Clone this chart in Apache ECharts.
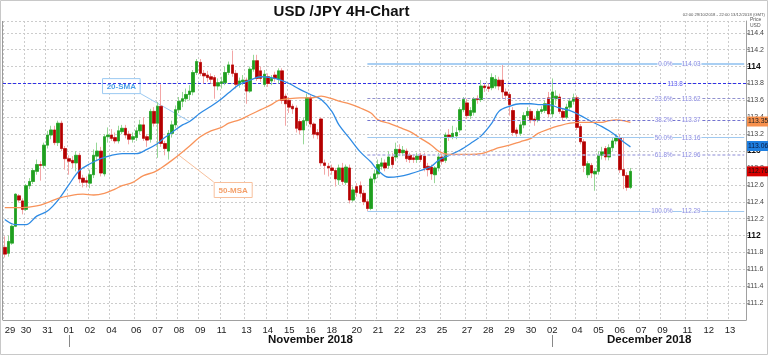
<!DOCTYPE html>
<html><head><meta charset="utf-8">
<script src="https://cdn.jsdelivr.net/npm/echarts@6/dist/echarts.min.js"></script>
<style>html,body{margin:0;padding:0;background:#fff}#c{width:768px;height:355px}</style>
</head><body><div id="c"></div>
<script>
const FONT = '"Liberation Sans", Arial, sans-serif';
// day labels on the time axis and number of 4H slots until the next label
const dayLabels = ['29','30','31','01','02','04','06','07','08','09','11','13','14','15','16','18','20','21','22','23','25','27','28','29','30','02','04','05','06','07','09','11','12','13'];
const slotsPerDay = [6,6,6,6,6,7,6,6,6,6,7,6,6,6,6,7,6,6,6,6,7,6,6,6,6,7,6,6,6,6,7,6,6,5];
const monthNames = ['November 2018','December 2018'];
const monthStartDay = [3, 25];
const priceTicksMin = 111.0, priceTicksMax = 114.54, priceStep = 0.2;

// candles: [open, close, low, high]
const ohlc = [
[111.86,111.78,111.74,111.99],[111.79,111.93,111.75,112.00],[111.91,112.11,111.89,112.13],[112.11,112.49,112.10,112.50],
[112.47,112.42,112.39,112.49],[112.41,112.31,112.25,112.44],[112.31,112.59,112.29,112.61],[112.59,112.64,112.55,112.68],
[112.64,112.77,112.61,112.80],[112.76,112.84,112.72,112.90],[112.84,112.83,112.65,112.88],[112.83,113.07,112.80,113.10],
[113.07,113.19,113.03,113.24],[113.19,113.25,113.14,113.30],[113.25,113.10,113.07,113.30],[113.10,113.33,113.06,113.36],
[113.33,113.03,113.00,113.36],[113.03,112.91,112.78,113.06],[112.91,112.88,112.72,112.95],[112.89,112.86,112.80,112.94],
[112.86,112.95,112.76,113.00],[112.95,112.67,112.62,112.98],[112.68,112.63,112.57,112.72],[112.65,112.63,112.57,112.70],
[112.62,112.72,112.56,112.78],[112.72,112.95,112.68,113.02],[112.94,113.00,112.88,113.10],[113.00,112.74,112.70,113.05],
[112.73,113.17,112.70,113.20],[113.17,113.19,113.10,113.28],[113.19,113.15,113.12,113.26],[113.16,113.12,113.09,113.22],
[113.12,113.24,113.09,113.30],[113.23,113.27,113.20,113.31],[113.27,113.19,113.15,113.31],[113.20,113.14,113.08,113.24],
[113.14,113.17,113.10,113.22],[113.16,113.24,113.12,113.28],[113.24,113.31,113.20,113.37],[113.31,113.15,113.12,113.40],
[113.17,113.13,113.05,113.20],[113.14,113.47,113.10,113.50],[113.47,113.33,113.29,113.52],[113.33,113.53,112.92,113.58],
[113.53,113.09,113.05,113.79],[113.09,113.03,112.95,113.12],[113.00,113.21,112.90,113.25],[113.21,113.31,113.16,113.36],
[113.31,113.49,113.27,113.54],[113.49,113.59,113.45,113.64],[113.59,113.62,113.52,113.70],[113.62,113.67,113.58,113.74],
[113.67,113.71,113.60,113.78],[113.70,113.93,113.66,113.96],[113.93,114.06,113.90,114.09],[114.05,113.92,113.89,114.09],
[113.92,113.89,113.80,113.96],[113.90,113.87,113.82,113.95],[113.88,113.85,113.80,113.92],[113.87,113.77,113.62,113.90],
[113.77,113.81,113.72,113.86],[113.80,113.82,113.74,113.88],[113.81,113.93,113.78,114.00],[113.93,114.02,113.90,114.06],
[114.02,113.92,113.88,114.19],[113.92,113.79,113.74,113.96],[113.79,113.83,113.75,113.87],[113.82,113.84,113.78,113.90],
[113.84,113.71,113.56,113.87],[113.71,113.97,113.69,114.00],[113.97,114.07,113.94,114.14],[114.07,113.86,113.83,114.14],
[113.95,113.86,113.82,114.00],[113.79,113.91,113.76,113.96],[113.88,113.80,113.76,113.92],[113.83,113.86,113.78,113.90],
[113.90,113.86,113.82,113.94],[113.85,113.95,113.80,113.98],[113.95,113.60,113.56,113.98],[113.65,113.56,113.30,113.68],
[113.60,113.52,113.45,113.64],[113.53,113.50,113.44,113.56],[113.51,113.27,113.22,113.54],[113.35,113.25,113.20,113.38],
[113.25,113.36,113.08,113.40],[113.36,113.63,113.30,113.68],[113.63,113.32,113.28,113.66],[113.32,113.20,113.15,113.34],
[113.22,113.19,113.14,113.26],[113.38,112.86,112.82,113.40],[112.86,112.83,112.72,112.90],[112.82,112.80,112.70,112.86],
[112.80,112.77,112.72,112.84],[112.77,112.67,112.58,112.80],[112.66,112.80,112.60,112.84],[112.80,112.64,112.60,112.86],
[112.63,112.81,112.60,112.84],[112.80,112.42,112.38,112.84],[112.42,112.54,112.40,112.58],[112.58,112.51,112.46,112.62],
[112.59,112.50,112.45,112.64],[112.50,112.40,112.36,112.54],[112.40,112.32,112.29,112.43],[112.32,112.67,112.30,112.70],
[112.67,112.73,112.62,112.78],[112.73,112.84,112.68,112.90],[112.82,112.86,112.78,112.92],[112.86,112.80,112.76,112.90],
[112.83,112.93,112.79,113.00],[112.93,112.84,112.80,112.98],[112.93,113.02,112.88,113.10],[113.02,112.98,112.94,113.08],
[112.98,113.01,112.94,113.06],[113.00,112.91,112.87,113.03],[112.95,112.90,112.86,112.98],[112.92,112.90,112.86,112.96],
[112.90,112.94,112.86,112.98],[112.95,112.90,112.87,112.98],[112.94,112.80,112.76,112.98],[112.82,112.78,112.70,112.86],
[112.81,112.73,112.66,112.84],[112.72,112.80,112.62,112.82],[112.80,112.93,112.76,112.98],[112.93,112.88,112.84,112.97],
[112.89,113.19,112.86,113.22],[113.19,113.17,113.12,113.26],[113.17,113.21,113.14,113.30],[113.18,113.22,113.14,113.28],
[113.25,113.49,113.22,113.52],[113.49,113.61,113.46,113.64],[113.57,113.42,113.38,113.62],[113.42,113.48,113.38,113.52],
[113.46,113.62,113.42,113.64],[113.62,113.61,113.56,113.66],[113.61,113.77,113.58,113.84],[113.77,113.75,113.70,113.80],
[113.76,113.74,113.70,113.80],[113.75,113.87,113.72,113.92],[113.77,113.85,113.74,113.90],[113.84,113.77,113.72,113.88],
[113.84,113.70,113.62,114.03],[113.70,113.66,113.60,113.74],[113.67,113.55,113.42,113.70],[113.48,113.22,113.18,113.52],
[113.25,113.21,113.17,113.28],[113.21,113.31,113.18,113.35],[113.31,113.42,113.27,113.46],[113.42,113.47,113.39,113.52],
[113.47,113.37,113.33,113.50],[113.38,113.36,113.30,113.42],[113.37,113.47,113.34,113.50],[113.47,113.49,113.44,113.53],
[113.48,113.56,113.45,113.60],[113.63,113.44,113.40,113.70],[113.44,113.70,113.40,113.86],[113.62,113.65,113.55,113.72],
[113.64,113.47,113.44,113.68],[113.47,113.40,113.36,113.50],[113.40,113.52,113.38,113.56],[113.52,113.59,113.49,113.62],
[113.59,113.63,113.55,113.68],[113.63,113.28,113.25,113.66],[113.29,113.11,113.08,113.32],[113.11,112.83,112.75,113.14],
[112.72,112.85,112.68,112.88],[112.83,112.74,112.68,112.86],[112.73,112.76,112.53,112.80],[112.76,112.95,112.72,113.00],
[112.95,112.99,112.90,113.05],[113.03,112.93,112.89,113.06],[112.93,113.04,112.89,113.08],[113.04,113.12,113.00,113.16],
[113.12,113.16,113.08,113.20],[113.16,112.78,112.74,113.20],[112.78,112.71,112.55,113.16],[112.71,112.57,112.53,112.75],
[112.57,112.76,112.55,112.80]
];

// moving averages: [slot index, value]
const ma20 = [[0,112.19],[3,112.13],[6,112.13],[9,112.23],[12,112.29],[15,112.42],[18,112.60],[21,112.77],[24,112.85],[27,112.91],
[30,112.95],[33,112.97],[37,112.97],[40,113.02],[43,113.09],[45,113.16],[47,113.22],[50,113.31],[52,113.35],[55,113.45],[58,113.53],
[61,113.62],[63,113.69],[66,113.79],[69,113.84],[72,113.88],[75,113.87],[77,113.85],[80,113.80],[83,113.73],[86,113.67],[89,113.61],
[92,113.47],[94,113.31],[97,113.15],[100,112.99],[103,112.87],[105,112.77],[108,112.69],[111,112.70],[114,112.73],[117,112.77],
[120,112.82],[122,112.89],[125,112.95],[128,113.01],[131,113.09],[134,113.18],[137,113.33],[139,113.47],[142,113.53],[145,113.56],
[148,113.56],[150,113.55],[153,113.55],[156,113.51],[159,113.48],[162,113.42],[165,113.35],[168,113.29],[170,113.24],[172,113.18],
[174,113.11],[176,113.05]];
const ma50 = [[0,112.33],[5,112.33],[9,112.35],[12,112.39],[15,112.44],[18,112.47],[22,112.49],[25,112.48],[28,112.50],[31,112.55],
[33,112.59],[36,112.63],[39,112.71],[42,112.75],[44,112.80],[47,112.89],[50,112.99],[52,113.06],[55,113.17],[58,113.24],[61,113.28],
[63,113.33],[66,113.37],[69,113.43],[72,113.49],[75,113.55],[77,113.60],[80,113.62],[83,113.63],[86,113.63],[89,113.65],[92,113.62],
[94,113.59],[97,113.56],[100,113.51],[103,113.45],[105,113.37],[108,113.33],[111,113.28],[114,113.23],[117,113.15],[120,113.07],
[122,113.00],[125,112.96],[128,112.96],[131,112.96],[134,112.97],[137,113.01],[139,113.04],[142,113.07],[145,113.11],[148,113.15],
[150,113.21],[153,113.26],[156,113.30],[159,113.33],[162,113.34],[165,113.34],[168,113.34],[170,113.36],[172,113.37],[174,113.36],[176,113.34]];

const fibNames = ['0.0%','23.6%','38.2%','50.0%','61.8%','100.0%'];
const fibValues = [114.03,113.62,113.37,113.16,112.96,112.29];
const fibStartSlot = 102;
const keyLevel = 113.8;
const tagMa50 = '113.35', tagMa20 = '113.06', tagClose = '112.76';
const tagMa50Val = 113.35, tagMa20Val = 113.06, tagCloseVal = 112.76;

// ---------------- build ----------------
const cats = []; const dayStart = {}; const dayFirstSlot = [];
dayLabels.forEach((d,i)=>{ for(let k=0;k<slotsPerDay[i];k++){ if(k===0){dayStart[cats.length]=d; dayFirstSlot.push(cats.length);} cats.push(d+'_'+i+'_'+k);} });
const lastSlot = cats.length-1;
const bodies = ohlc.map(r=>[r[0],r[1],Math.min(r[0],r[1]),Math.max(r[0],r[1])]);

const fibStyles = [
 {color:'#a9cff3', width:2, type:'solid'},
 {color:'#9191cf', width:1, type:[3,2]},
 {color:'#7373cf', width:1, type:[3,2]},
 {color:'#a0c9f0', width:1.2, type:'solid'},
 {color:'#b3b3e3', width:1.5, type:[3,2]},
 {color:'#a0c9f0', width:1.2, type:'solid'}
];
const fibLines = fibValues.map((v,i)=>[{coord:[fibStartSlot, v], lineStyle:fibStyles[i]},{coord:[lastSlot, v]}]);

const labelSlot = cats.length - 13;
const keySlot = cats.length - 18;
const fibLabelData = fibValues.map((v,i)=>({value:[labelSlot, v], label:{formatter:'{p|'+fibNames[i]+'}{s|}{v|'+v.toFixed(2)+'}'}}));
fibLabelData.push({value:[keySlot, keyLevel], label:{formatter:'{k|'+keyLevel+'}'}});

const tagLabel = (txt,bg,fg)=>({show:true, position:'end', distance:1, formatter:txt, backgroundColor:bg, color:fg, fontSize:6.8, fontFamily:FONT, padding:[2,1,1,1]});

const chart = echarts.init(document.getElementById('c'));
chart.setOption({
  animation:false,
  backgroundColor:'#fff',
  grid:{left:3, right:22, top:21, bottom:35},
  xAxis:{type:'category', data:cats, boundaryGap:true,
    axisLine:{show:true, lineStyle:{color:'#a0a0a0'}},
    axisTick:{show:false},
    axisLabel:{interval:(i)=>dayStart[i]!==undefined, formatter:(v)=>v.split('_')[0], color:'#222', fontSize:9.5, margin:5, fontFamily:FONT, alignMinLabel:'left'},
    splitLine:{show:true, interval:(i)=>dayStart[i]!==undefined, lineStyle:{color:'#cccccc', type:[2,2], width:1}}},
  yAxis:{type:'value', position:'right', min:priceTicksMin, max:priceTicksMax, interval:priceStep, scale:true,
    axisLine:{show:true, lineStyle:{color:'#a0a0a0'}},
    axisTick:{show:true, length:3, lineStyle:{color:'#a0a0a0'}},
    axisLabel:{showMinLabel:false, showMaxLabel:false, margin:1, color:'#333', fontFamily:FONT,
      formatter:(v)=>{const r=Math.round(v*10)/10; return Math.abs(r-Math.round(r))<1e-6 ? '{b|'+Math.round(r)+'}' : '{n|'+r.toFixed(1)+'}';},
      rich:{b:{fontSize:8.5, fontWeight:'bold', color:'#111', fontFamily:FONT}, n:{fontSize:7, color:'#444', fontFamily:FONT}}},
    splitLine:{show:true, lineStyle:{color:'#cccccc', type:[2,2], width:1}}},
  series:[
    {type:'candlestick', name:'wick', data:ohlc, barWidth:3, z:2,
      itemStyle:{color:'#97d897', color0:'#f3a6a6', borderColor:'#97d897', borderColor0:'#f3a6a6', borderWidth:1}},
    {type:'candlestick', name:'body', data:bodies, barWidth:3, z:3,
      itemStyle:{color:'#1f9f1f', color0:'#b30000', borderColor:'#1f9f1f', borderColor0:'#b30000', borderWidth:0.6},
      markLine:{silent:true, symbol:['none','none'], animation:false, label:{show:false}, data:fibLines}},
    {type:'line', name:'20-SMA', data:ma20, smooth:0.35, showSymbol:false, z:4,
      lineStyle:{color:'#2f8be4', width:1.3}, itemStyle:{color:'#2f8be4'},
      markLine:{silent:true, symbol:['none','none'], animation:false, lineStyle:{color:'transparent', width:0},
        data:[{yAxis:tagMa20Val, label:tagLabel(tagMa20,'#1f7fe0','#0a1a40')}]}},
    {type:'line', name:'50-SMA', data:ma50, smooth:0.35, showSymbol:false, z:4,
      lineStyle:{color:'#f8935a', width:1.3}, itemStyle:{color:'#f8935a'},
      markLine:{silent:true, symbol:['none','none'], animation:false, lineStyle:{color:'transparent', width:0},
        data:[{yAxis:tagMa50Val, label:tagLabel(tagMa50,'#f7904c','#222')}, {yAxis:tagCloseVal, label:tagLabel(tagClose,'#d80000','#111')}]}},
    {type:'scatter', name:'fibLabels', data:fibLabelData, symbolSize:0.1, silent:true, z:6,
      itemStyle:{color:'transparent'},
      markLine:{silent:true, symbol:['none','none'], animation:false, label:{show:false}, z:1,
        lineStyle:{color:'#3030e8', width:1, type:[3,2], opacity:1},
        data:[{yAxis:keyLevel}]},
      label:{show:true, position:'left', distance:0, fontFamily:FONT,
        rich:{p:{fontSize:6.3, color:'#6d6dd8', backgroundColor:'#fff', padding:[1,0,0,1]},
              s:{width:9},
              v:{fontSize:6.3, color:'#6d6dd8', backgroundColor:'#fff', padding:[1,1,0,0]},
              k:{fontSize:6.3, color:'#3030e8', backgroundColor:'#fff', padding:[1,1,0,1]}}}}
  ]
});

// -------- annotations & texts --------
const px = (i,v)=>chart.convertToPixel({xAxisIndex:0,yAxisIndex:0},[i,v]);
const g = [];
g.push({type:'rect', shape:{x:0.5,y:0.5,width:767,height:354}, style:{fill:'none', stroke:'#c8c8c8', lineWidth:1}, silent:true});
g.push({type:'line', shape:{x1:2.5,y1:21,x2:2.5,y2:320}, style:{stroke:'#9a9a9a', lineWidth:1}});
g.push({type:'text', x:341.5, y:12, style:{text:'USD /JPY 4H-Chart', font:'bold 15px '+FONT, fill:'#111', textAlign:'center', textVerticalAlign:'middle'}});
g.push({type:'text', x:765, y:15, style:{text:'02:00 29/10/2018 - 22:00 13/12/2018 (GMT)', font:'4.2px '+FONT, fill:'#555', textAlign:'right', textVerticalAlign:'middle'}});
g.push({type:'text', x:750, y:23, style:{text:'Price\nUSD', font:'5px '+FONT, fill:'#555', textAlign:'left', textVerticalAlign:'middle', lineHeight:6}});
// month labels
const gridRight = 768-22;
monthStartDay.forEach((d,i)=>{
  const s = dayFirstSlot[d];
  const x0 = px(s, 112)[0];
  const x1 = i+1<monthStartDay.length ? px(dayFirstSlot[monthStartDay[i+1]],112)[0] : gridRight;
  g.push({type:'line', shape:{x1:Math.round(x0)+0.5,y1:335,x2:Math.round(x0)+0.5,y2:347}, style:{stroke:'#888', lineWidth:1}});
  g.push({type:'text', x:(x0+x1)/2, y:340, style:{text:monthNames[i], font:'bold 11.5px '+FONT, fill:'#111', textAlign:'center', textVerticalAlign:'middle'}});
});
// MA callouts
const callout = (target, dx, dy, w, h, text, color, border, fromCorner)=>{
  const t = px(target[0], target[1]);
  const bx = t[0]+dx, by = t[1]+dy;
  const c = fromCorner==='br' ? [bx+w, by+h] : [bx, by];
  g.push({type:'line', shape:{x1:c[0],y1:c[1],x2:t[0],y2:t[1]}, style:{stroke:border, lineWidth:1}});
  g.push({type:'rect', shape:{x:bx+0.5,y:by+0.5,width:w,height:h}, style:{fill:'#fff', stroke:border, lineWidth:1}});
  g.push({type:'text', x:bx+w/2+0.5, y:by+h/2+1, style:{text:text, font:'bold 8px '+FONT, fill:color, textAlign:'center', textVerticalAlign:'middle'}});
};
callout([52,113.35], -87.6, -43.4, 37.6, 15, '20-SMA', '#4d9fe8', '#9ccaf2', 'br');
callout([49,112.95], 34.7, 26.7, 38, 15, '50-MSA', '#f4a06a', '#f8c09c', 'tl');
chart.setOption({graphic:g});
</script>
</body></html>
